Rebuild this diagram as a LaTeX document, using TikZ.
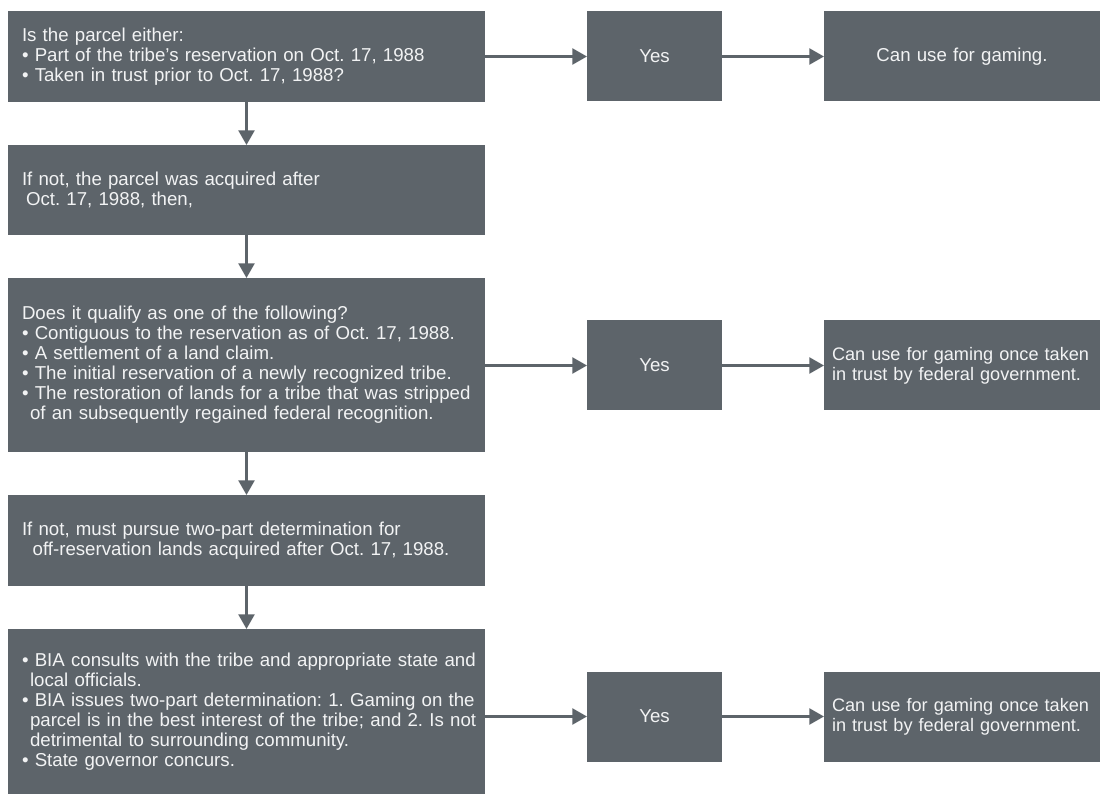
\documentclass[tikz,border=0pt]{standalone}
\usepackage{fontspec}
\setmainfont{Liberation Sans}
\usetikzlibrary{arrows.meta}
\definecolor{boxgray}{RGB}{93,100,106}
\definecolor{txtwhite}{RGB}{242,243,244}
\newcommand\Ln[1]{\mbox{#1}}
\frenchspacing
\begin{document}
\begin{tikzpicture}[x=0.75pt,y=-0.75pt,
  box/.style={fill=boxgray, draw=none, text=txtwhite, inner ysep=0pt, outer sep=0pt,
    font=\fontsize{14pt}{15pt}\selectfont\frenchspacing},
  qbox/.style={box, inner xsep=10.5pt, text width=336.75pt, align=left},
  ybox/.style={box, inner xsep=0pt, minimum width=101.25pt, minimum height=67.5pt, align=center},
  rbox/.style={box, inner xsep=6pt, text width=195pt, minimum height=67.5pt},
  rtext/.style={font=\fontsize{13.6pt}{15pt}\selectfont\frenchspacing},
  arr/.style={draw=boxgray, line width=1.8pt, -{Triangle[length=11pt,width=12pt]}}
]
\useasboundingbox (0,0) rectangle (1100,798);

\node[qbox, minimum height=68.25pt] (q1) at (246.5,56.5) {\Ln{Is the parcel either:}\\
\Ln{• Part of the tribe’s reservation on Oct. 17, 1988}\\
\Ln{• Taken in trust prior to Oct. 17, 1988?}};
\node[ybox] (y1) at (654.5,56.5) {Yes};
\node[rbox, align=center] (r1) at (962,56.5) {Can use for gaming.};

\node[qbox, minimum height=67.5pt] (q2) at (246.5,190) {\Ln{If not, the parcel was acquired after}\\
\Ln{\hspace*{3pt}Oct. 17, 1988, then,}\\[2pt]};

\node[qbox, minimum height=130.5pt] (q3) at (246.5,365) {\Ln{Does it qualify as one of the following?}\\
\Ln{• Contiguous to the reservation as of Oct. 17, 1988.}\\
\Ln{• A settlement of a land claim.}\\
\Ln{• The initial reservation of a newly recognized tribe.}\\
\Ln{• The restoration of lands for a tribe that was stripped}\\
\Ln{\hspace*{6pt}of an subsequently regained federal recognition.}};
\node[ybox] (y2) at (654.5,365.5) {Yes};
\node[rbox, rtext, align=left] (r2) at (962,365.5) {\Ln{Can use for gaming once taken}\\\Ln{in trust by federal government.}};

\node[qbox, minimum height=68.25pt] (q4) at (246.5,540.5) {\Ln{If not, must pursue two-part determination for}\\
\Ln{\hspace*{8pt}off-reservation lands acquired after Oct. 17, 1988.}};

\node[qbox, minimum height=123.75pt] (q5) at (246.5,711.5) {\Ln{• BIA consults with the tribe and appropriate state and}\\
\Ln{\hspace*{6pt}local officials.}\\
\Ln{• BIA issues two-part determination: 1. Gaming on the}\\
\Ln{\hspace*{6pt}parcel is in the best interest of the tribe; and 2. Is not}\\
\Ln{\hspace*{6pt}detrimental to surrounding community.}\\
\Ln{• State governor concurs.}};
\node[ybox] (y3) at (654.5,716.5) {Yes};
\node[rbox, rtext, align=left] (r3) at (962,716.5) {\Ln{Can use for gaming once taken}\\\Ln{in trust by federal government.}};

\draw[arr] (q1) -- (y1);
\draw[arr] (y1) -- (r1);
\draw[arr] (q1) -- (q2);
\draw[arr] (q2) -- (q3);
\draw[arr] (q3.east |- y2.west) -- (y2.west);
\draw[arr] (y2) -- (r2);
\draw[arr] (q3) -- (q4);
\draw[arr] (q4) -- (q5);
\draw[arr] (q5.east |- y3.west) -- (y3.west);
\draw[arr] (y3) -- (r3);
\end{tikzpicture}
\end{document}
